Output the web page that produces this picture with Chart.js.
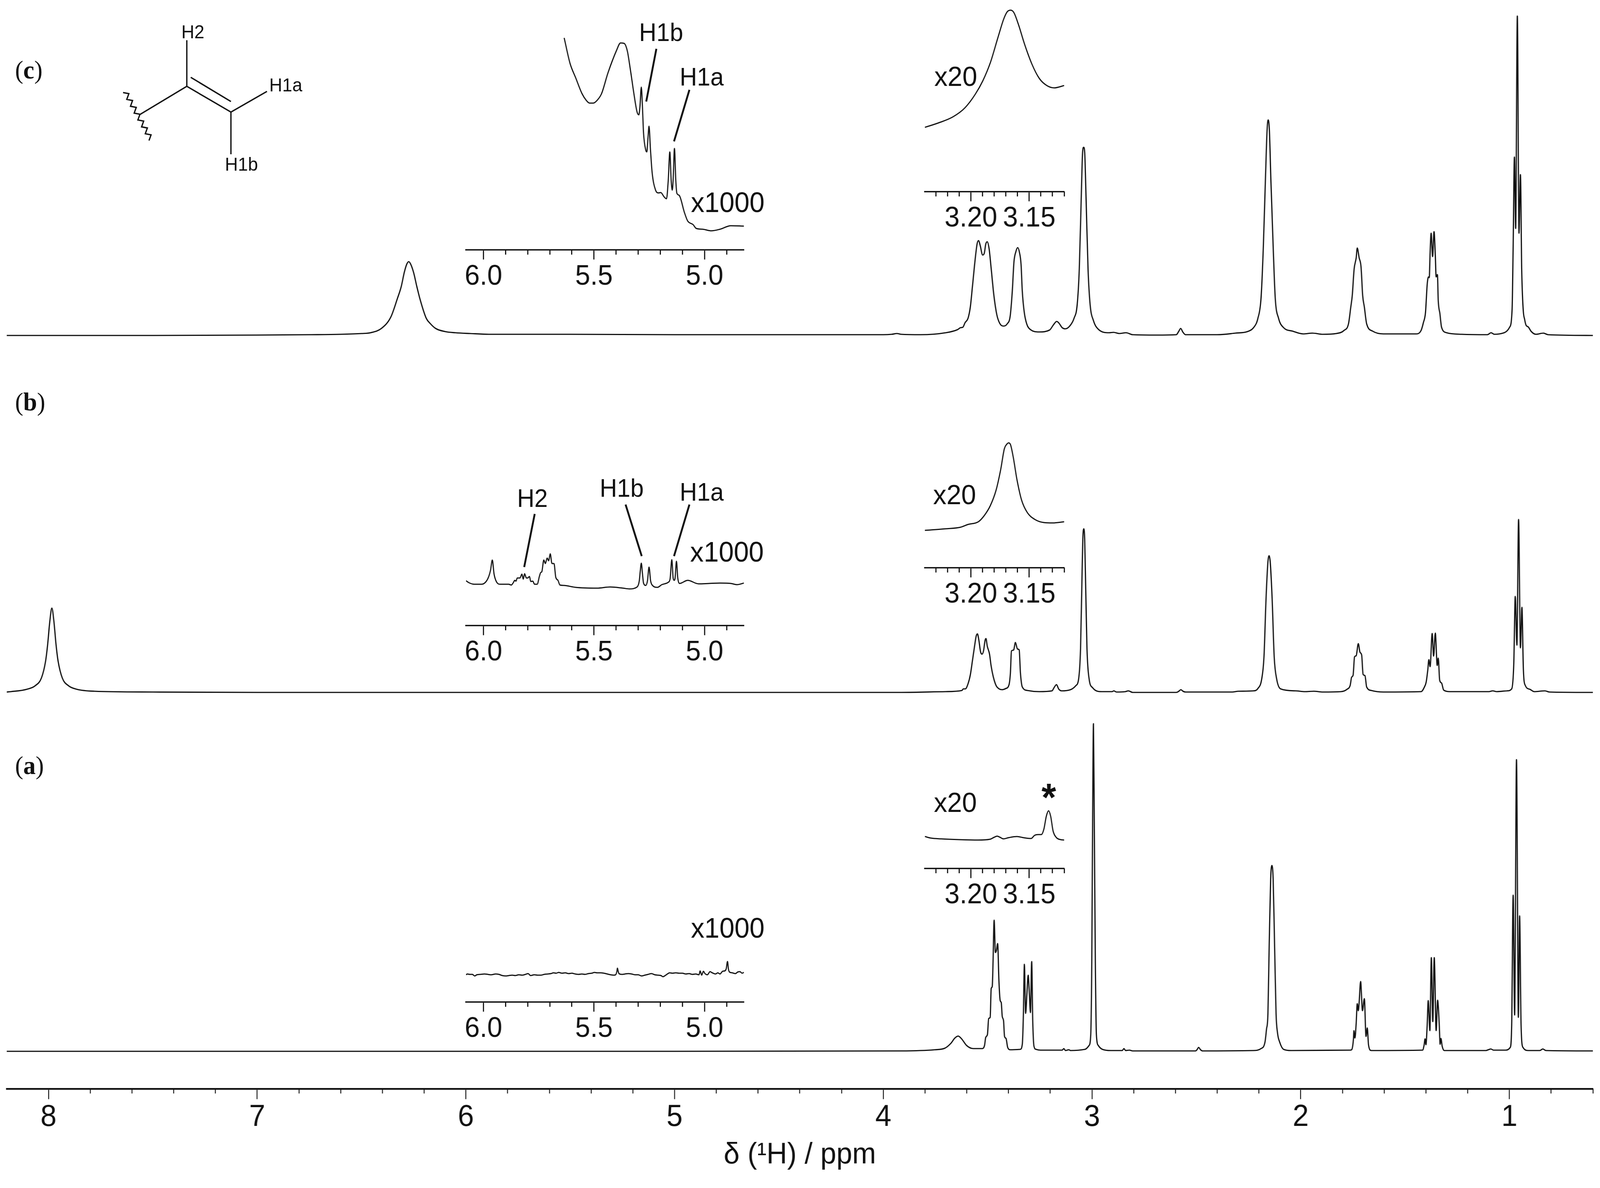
<!DOCTYPE html>
<html lang="en">
  <head>
    <meta charset="UTF-8" />
    <title>1H NMR spectra</title>
    <script src="https://cdn.jsdelivr.net/npm/chart.js"></script>
    <style>
      html, body { margin: 0; padding: 0; background: #fff; overflow: hidden; }
      #page { position: absolute; left: 0; top: 0; width: 4261px; height: 3042px; transform-origin: 0 0; }
      canvas, svg { position: absolute; }
    </style>
  </head>
  <body>
    <div id="page">
      <canvas id="main" width="4261" height="3042" style="left: 0; top: 0"></canvas>
      <svg id="notes" width="4261" height="3042" viewBox="0 0 4261 3042" style="left: 0; top: 0"></svg>
    </div>
    <script>
      // [ppm, height above that spectrum's own baseline]
      const specC = [[8.2,0],[7.5,0],[7.0,1],[6.75,2],[6.6,3],[6.5,5],[6.457,7],[6.405,18],[6.36,47],[6.328,95],[6.31,125],[6.295,162],[6.283,183],[6.274,189],[6.265,183],[6.25,160],[6.235,125],[6.221,95],[6.19,44],[6.17,30],[6.145,18],[6.1,10],[6.05,7],[5.98,5],[5.89,3],[5.5,3],[5,2],[4.5,2],[4.0,2],[3.96,3],[3.935,5],[3.914,3],[3.822,2],[3.701,7],[3.644,15],[3.63,20],[3.619,21],[3.608,33],[3.594,44],[3.583,73],[3.573,125],[3.559,199],[3.55,236],[3.543,243],[3.536,231],[3.524,206],[3.516,211],[3.509,234],[3.502,240],[3.493,222],[3.484,176],[3.47,102],[3.456,53],[3.441,30],[3.424,24],[3.406,30],[3.392,50],[3.382,113],[3.374,188],[3.365,214],[3.356,225],[3.347,211],[3.34,182],[3.334,113],[3.325,61],[3.313,30],[3.295,15],[3.253,9],[3.203,14],[3.185,27],[3.169,36],[3.159,32],[3.143,20],[3.128,17],[3.107,24],[3.086,44],[3.071,79],[3.061,170],[3.052,343],[3.045,469],[3.04,482],[3.035,469],[3.028,343],[3.019,170],[3.009,79],[2.993,38],[2.968,15],[2.918,7],[2.897,8],[2.869,5],[2.837,7],[2.805,2],[2.69,1],[2.596,2],[2.585,10],[2.575,18],[2.565,9],[2.552,2],[2.4,2],[2.313,6],[2.255,10],[2.226,20],[2.205,44],[2.19,96],[2.179,228],[2.169,400],[2.161,526],[2.156,552],[2.15,526],[2.143,400],[2.132,228],[2.122,96],[2.106,44],[2.082,20],[2.038,11],[1.988,4],[1.944,6],[1.894,3],[1.829,5],[1.792,13],[1.771,30],[1.76,73],[1.753,102],[1.744,170],[1.734,199],[1.729,224],[1.72,199],[1.711,176],[1.703,102],[1.695,73],[1.684,30],[1.655,11],[1.604,4],[1.56,4],[1.445,4],[1.423,13],[1.412,33],[1.402,59],[1.394,130],[1.388,150],[1.384,148],[1.38,211],[1.375,262],[1.368,202],[1.361,266],[1.355,205],[1.351,150],[1.345,156],[1.341,90],[1.333,56],[1.325,21],[1.301,7],[1.228,3],[1.105,2],[1.088,7],[1.072,3],[1.025,7],[0.999,21],[0.987,67],[0.982,228],[0.976,457],[0.97,274],[0.962,818],[0.954,262],[0.947,412],[0.941,170],[0.934,67],[0.927,41],[0.92,26],[0.91,22],[0.895,10],[0.873,3],[0.837,6],[0.815,2],[0.6,0]];
      const specB = [[8.2,1],[8.18,2],[8.104,8],[8.064,17],[8.034,37],[8.014,80],[8.004,123],[7.994,181],[7.984,216],[7.974,181],[7.964,123],[7.954,80],[7.934,37],[7.904,17],[7.864,8],[7.78,3],[7.5,1],[7,0],[5,0],[3.914,0],[3.701,2],[3.623,5],[3.617,9],[3.607,9],[3.594,22],[3.583,45],[3.573,81],[3.562,121],[3.555,144],[3.549,150],[3.543,137],[3.534,104],[3.527,98],[3.52,106],[3.512,134],[3.508,138],[3.502,119],[3.491,98],[3.484,70],[3.473,40],[3.459,17],[3.445,9],[3.431,7],[3.413,10],[3.398,19],[3.391,50],[3.386,106],[3.379,108],[3.375,109],[3.367,128],[3.357,111],[3.349,109],[3.343,50],[3.334,14],[3.31,5],[3.253,2],[3.192,4],[3.182,12],[3.17,20],[3.16,9],[3.146,4],[3.103,7],[3.078,17],[3.064,35],[3.055,111],[3.049,264],[3.044,392],[3.039,419],[3.035,392],[3.03,264],[3.024,111],[3.014,35],[2.997,12],[2.954,2],[2.904,2],[2.895,4],[2.883,1],[2.84,2],[2.826,4],[2.805,0],[2.596,0],[2.584,3],[2.574,7],[2.564,3],[2.552,1],[2.328,1],[2.299,3],[2.226,4],[2.205,10],[2.187,34],[2.176,91],[2.166,241],[2.157,334],[2.151,350],[2.146,334],[2.137,241],[2.127,91],[2.115,34],[2.096,9],[2.024,4],[1.98,2],[1.937,3],[1.894,1],[1.807,2],[1.778,8],[1.763,18],[1.756,39],[1.749,44],[1.742,91],[1.734,94],[1.724,125],[1.716,103],[1.708,96],[1.701,46],[1.692,43],[1.684,14],[1.662,5],[1.604,1],[1.423,2],[1.407,14],[1.399,26],[1.391,58],[1.386,84],[1.38,66],[1.37,151],[1.363,93],[1.355,152],[1.346,69],[1.341,88],[1.334,31],[1.325,24],[1.315,6],[1.286,2],[1.098,2],[1.08,4],[1.061,2],[1.011,4],[0.989,9],[0.979,74],[0.972,246],[0.964,121],[0.956,443],[0.947,114],[0.94,218],[0.933,58],[0.924,18],[0.902,8],[0.881,2],[0.83,4],[0.808,1],[0.6,0]];
      const specA = [[8.2,0],[5,0],[3.914,1],[3.754,4],[3.705,8],[3.677,20],[3.657,34],[3.641,39],[3.625,32],[3.601,15],[3.569,7],[3.525,7],[3.515,15],[3.509,36],[3.501,43],[3.495,84],[3.488,87],[3.483,161],[3.478,166],[3.474,232],[3.469,336],[3.463,253],[3.458,258],[3.452,276],[3.446,181],[3.44,130],[3.435,125],[3.43,89],[3.424,79],[3.419,38],[3.412,33],[3.404,10],[3.392,4],[3.344,5],[3.334,18],[3.329,89],[3.324,223],[3.318,97],[3.312,145],[3.306,195],[3.3,145],[3.295,99],[3.289,230],[3.284,79],[3.278,13],[3.268,5],[3.247,3],[3.143,3],[3.135,7],[3.127,2],[3.111,4],[3.103,2],[3.034,5],[3.014,15],[3.006,43],[3.001,232],[2.997,589],[2.993,839],[2.989,589],[2.984,232],[2.979,43],[2.97,15],[2.95,5],[2.91,2],[2.855,2],[2.847,7],[2.839,2],[2.821,3],[2.805,1],[2.504,1],[2.497,4],[2.489,10],[2.48,4],[2.47,1],[2.227,2],[2.19,7],[2.171,24],[2.164,56],[2.157,96],[2.151,268],[2.144,440],[2.138,476],[2.132,440],[2.125,268],[2.118,96],[2.111,47],[2.101,24],[2.082,5],[2.046,2],[1.763,3],[1.756,4],[1.747,33],[1.745,53],[1.74,34],[1.734,73],[1.729,122],[1.724,104],[1.72,125],[1.713,179],[1.704,104],[1.695,135],[1.687,38],[1.681,60],[1.675,16],[1.662,2],[1.416,3],[1.409,15],[1.404,32],[1.4,17],[1.394,67],[1.389,130],[1.381,53],[1.374,240],[1.367,76],[1.36,240],[1.351,53],[1.344,131],[1.336,67],[1.332,18],[1.328,33],[1.322,13],[1.312,2],[1.112,2],[1.101,4],[1.089,6],[1.076,3],[1.018,3],[0.996,10],[0.989,67],[0.982,400],[0.975,93],[0.966,747],[0.957,87],[0.951,347],[0.944,67],[0.935,10],[0.909,2],[0.854,2],[0.84,6],[0.825,2],[0.6,1]];

      // x1000 enlargements, height above the inset axis
      const zoomC1000 = [[5.635,543],[5.608,477],[5.583,441],[5.554,400],[5.535,383],[5.52,376],[5.503,376],[5.486,383],[5.466,400],[5.437,453],[5.398,511],[5.38,530],[5.364,529],[5.349,509],[5.335,460],[5.32,402],[5.305,353],[5.297,346],[5.292,368],[5.286,417],[5.281,368],[5.276,300],[5.266,256],[5.261,251],[5.256,285],[5.251,317],[5.245,261],[5.237,198],[5.222,154],[5.208,146],[5.198,147],[5.183,136],[5.172,131],[5.164,179],[5.157,251],[5.151,179],[5.146,153],[5.142,179],[5.136,260],[5.13,179],[5.125,145],[5.115,140],[5.091,96],[5.076,74],[5.052,65],[5.037,55],[5.008,53],[4.969,49],[4.93,53],[4.881,62],[4.822,61]];
      const zoomB1000 = [[6.079,115],[6.066,110],[6.042,106],[6.008,106],[5.988,113],[5.976,126],[5.968,142],[5.96,168],[5.952,132],[5.942,113],[5.925,106],[5.886,106],[5.874,104],[5.864,111],[5.859,116],[5.853,114],[5.847,122],[5.835,122],[5.826,132],[5.82,119],[5.814,133],[5.806,122],[5.8,122],[5.792,126],[5.786,113],[5.777,114],[5.769,106],[5.757,106],[5.747,126],[5.741,136],[5.736,138],[5.727,168],[5.72,159],[5.712,173],[5.705,166],[5.698,184],[5.69,159],[5.681,159],[5.673,124],[5.663,116],[5.654,104],[5.637,103],[5.583,98],[5.486,96],[5.427,99],[5.369,96],[5.34,94],[5.305,99],[5.295,115],[5.291,138],[5.286,160],[5.281,134],[5.276,109],[5.266,103],[5.258,115],[5.251,150],[5.244,115],[5.237,104],[5.213,98],[5.193,105],[5.164,111],[5.156,119],[5.148,169],[5.142,122],[5.137,116],[5.133,122],[5.127,165],[5.121,122],[5.113,108],[5.076,116],[5.027,107],[4.979,108],[4.93,109],[4.881,108],[4.852,105],[4.822,109]];
      const zoomA1000 = [[6.079,70],[6.073,72],[6.062,71],[6.05,71],[6.04,67],[6.03,70],[6.015,71],[5.995,72],[5.98,71],[5.965,70],[5.945,72],[5.93,71],[5.915,68],[5.9,67],[5.885,68],[5.87,69],[5.856,68],[5.84,70],[5.825,69],[5.81,71],[5.798,73],[5.787,68],[5.77,70],[5.755,69],[5.739,69],[5.725,71],[5.71,72],[5.695,73],[5.683,75],[5.671,74],[5.66,76],[5.645,74],[5.63,75],[5.615,73],[5.6,74],[5.585,72],[5.57,71],[5.555,72],[5.54,71],[5.525,73],[5.51,74],[5.498,76],[5.486,75],[5.47,75],[5.455,74],[5.44,72],[5.425,70],[5.41,69],[5.402,70],[5.396,80],[5.394,87],[5.391,80],[5.387,73],[5.375,71],[5.36,72],[5.345,73],[5.33,72],[5.315,70],[5.3,70],[5.285,67],[5.27,69],[5.255,71],[5.24,73],[5.225,70],[5.21,69],[5.197,68],[5.188,65],[5.178,68],[5.168,72],[5.158,75],[5.145,74],[5.13,75],[5.115,74],[5.1,74],[5.085,72],[5.07,73],[5.055,71],[5.04,72],[5.025,70],[5.02,80],[5.013,69],[5.005,79],[4.998,73],[4.987,70],[4.975,78],[4.965,75],[4.95,72],[4.94,75],[4.93,72],[4.918,79],[4.908,80],[4.902,85],[4.896,104],[4.892,85],[4.887,77],[4.875,75],[4.86,73],[4.85,77],[4.84,78],[4.83,74],[4.822,76]];

      // x20 enlargements
      const zoomC20 = [[3.2395,165],[3.2281,176],[3.2153,192],[3.2051,215],[3.1962,250],[3.1898,284],[3.1834,330],[3.177,393],[3.1719,442],[3.1688,461],[3.1658,465],[3.163,458],[3.1592,428],[3.1541,379],[3.1477,327],[3.1413,290],[3.1349,272],[3.1286,266],[3.12,272]];
      const zoomB20 = [[3.2395,96],[3.2217,100],[3.2089,104],[3.2026,111],[3.1936,118],[3.1885,134],[3.1834,159],[3.1783,200],[3.1745,251],[3.1713,305],[3.1691,317],[3.1677,320],[3.166,315],[3.1636,282],[3.1605,226],[3.1566,174],[3.1515,141],[3.1452,124],[3.1375,116],[3.1298,115],[3.12,118]];
      const zoomA20 = [[3.2395,82],[3.2342,78],[3.2256,76],[3.2097,74],[3.1938,73],[3.1837,75],[3.1801,80],[3.1775,83],[3.175,80],[3.1721,76],[3.1678,79],[3.1605,82],[3.1548,79],[3.1483,77],[3.1454,85],[3.1425,87],[3.1396,87],[3.1374,101],[3.1353,134],[3.1334,148],[3.1316,134],[3.1295,96],[3.1266,79],[3.123,74],[3.12,73]];

      // ticks
      const mainMajor = [8, 7, 6, 5, 4, 3, 2, 1];
      const mainMinor = [7.8, 7.6, 7.4, 7.2, 6.8, 6.6, 6.4, 6.2, 5.8, 5.6, 5.4, 5.2, 4.8, 4.6, 4.4, 4.2, 3.8, 3.6, 3.4, 3.2, 2.8, 2.6, 2.4, 2.2, 1.8, 1.6, 1.4, 1.2, 0.8, 0.6];
      const wideMajor = [6.0, 5.5, 5.0];
      const wideMinor = [5.9, 5.8, 5.7, 5.6, 5.4, 5.3, 5.2, 5.1, 4.9];
      const narrowMajor = [3.2, 3.15];
      const narrowMinor = [3.23, 3.22, 3.21, 3.19, 3.18, 3.17, 3.16, 3.14, 3.13, 3.12];

      // how far each spectrum sits above the main axis
      const baseC = 1929;
      const baseB = 1015;
      const baseA = 96;

      const INK = "#111";
      Chart.defaults.font.family = "'Liberation Sans', Arial, sans-serif";
      Chart.defaults.color = INK;

      // the browser may give less than the 4261 wide window, keep the picture filling it
      const page = document.getElementById("page");
      page.style.transform = "scale(" + Math.min(1, window.innerWidth / 4261) + ", 1)";

      function lineSet(points, offset, width) {
        return {
          data: points.map((p) => ({ x: p[0], y: p[1] + offset })),
          borderColor: INK,
          borderWidth: width,
          pointRadius: 0,
          cubicInterpolationMode: "monotone",
          borderJoinStyle: "round",
        };
      }

      function axisPair(o) {
        const setTicks = (list) => (axis) => {
          axis.ticks = list.map((v) => ({ value: v }));
        };
        const common = {
          type: "linear",
          reverse: true,
          min: o.min,
          max: o.max,
          position: { y: 0 },
        };
        return {
          x: {
            ...common,
            afterBuildTicks: setTicks(o.major),
            border: { display: true, width: o.borderWidth, color: INK },
            grid: { drawOnChartArea: false, tickLength: o.majorLen, tickWidth: o.tickWidth, tickColor: INK },
            ticks: {
              autoSkip: false,
              maxRotation: 0,
              minRotation: 0,
              padding: o.labelPad,
              color: INK,
              font: { size: o.fontSize },
              callback: (v) => v.toFixed(o.digits),
            },
            title: o.title || { display: false },
          },
          xMinor: {
            ...common,
            axis: "x",
            afterBuildTicks: setTicks(o.minor),
            border: { display: false },
            grid: { drawOnChartArea: false, tickLength: o.minorLen, tickWidth: o.tickWidth, tickColor: INK },
            ticks: { display: false, autoSkip: false, maxRotation: 0 },
          },
          y: { display: false, min: 0, max: o.yMax },
        };
      }

      function draw(canvas, datasets, padding, scales) {
        new Chart(canvas, {
          type: "line",
          data: { datasets: datasets },
          options: {
            responsive: false,
            devicePixelRatio: 1,
            animation: false,
            events: [],
            layout: { padding: padding },
            scales: scales,
            plugins: { legend: { display: false }, tooltip: { enabled: false } },
          },
        });
      }

      // the stacked full spectra and the shared ppm axis
      draw(
        document.getElementById("main"),
        [lineSet(specC, baseC, 3.2), lineSet(specB, baseB, 3.2), lineSet(specA, baseA, 3.2)],
        { left: 18, right: 19, top: 0, bottom: 254 },
        axisPair({
          min: 0.6, max: 8.2, major: mainMajor, minor: mainMinor, digits: 0,
          majorLen: 24, minorLen: 12, tickWidth: 2.4, borderWidth: 4.5,
          fontSize: 77, labelPad: 4, yMax: 2788,
          title: {
            display: true,
            text: "δ (¹H) / ppm",
            color: INK,
            font: { size: 76 },
            padding: { top: 0, bottom: 170 },
          },
        })
      );

      function inset(points, left, right, axisY, height, ppmRange, major, minor, digits) {
        const margin = 90;
        const below = 130;
        const canvas = document.createElement("canvas");
        canvas.width = right - left + margin * 2;
        canvas.height = height + below;
        canvas.style.left = left - margin + "px";
        canvas.style.top = axisY - height + "px";
        page.insertBefore(canvas, document.getElementById("notes"));
        draw(
          canvas,
          [lineSet(points, 0, 3)],
          { left: margin, right: margin, top: 0, bottom: below },
          axisPair({
            min: ppmRange[0], max: ppmRange[1], major: major, minor: minor, digits: digits,
            majorLen: 23, minorLen: 12, tickWidth: 3, borderWidth: 3.5,
            fontSize: 72, labelPad: 3, yMax: height,
          })
        );
      }

      inset(zoomC1000, 1241, 1981, 640, 620, [4.822, 6.079], wideMajor, wideMinor, 1);
      inset(zoomB1000, 1241, 1981, 1602, 620, [4.822, 6.079], wideMajor, wideMinor, 1);
      inset(zoomA1000, 1241, 1981, 2566, 620, [4.822, 6.079], wideMajor, wideMinor, 1);
      inset(zoomC20, 2463, 2834, 491, 480, [3.12, 3.2395], narrowMajor, narrowMinor, 2);
      inset(zoomB20, 2463, 2834, 1454, 480, [3.12, 3.2395], narrowMajor, narrowMinor, 2);
      inset(zoomA20, 2463, 2834, 2224, 480, [3.12, 3.2395], narrowMajor, narrowMinor, 2);

      // text and drawn structure on top of the charts
      const svg = document.getElementById("notes");
      const NS = "http://www.w3.org/2000/svg";

      function text(str, x, y, size, extra) {
        const t = document.createElementNS(NS, "text");
        t.setAttribute("x", x);
        t.setAttribute("y", y);
        t.setAttribute("font-size", size);
        t.setAttribute("font-family", "'Liberation Sans', Arial, sans-serif");
        t.setAttribute("fill", INK);
        Object.entries(extra || {}).forEach(([k, v]) => t.setAttribute(k, v));
        t.textContent = str;
        svg.appendChild(t);
        return t;
      }

      function stroke(x1, y1, x2, y2, w) {
        const l = document.createElementNS(NS, "line");
        l.setAttribute("x1", x1);
        l.setAttribute("y1", y1);
        l.setAttribute("x2", x2);
        l.setAttribute("y2", y2);
        l.setAttribute("stroke", INK);
        l.setAttribute("stroke-width", w);
        svg.appendChild(l);
      }

      function panelLabel(letter, y) {
        const t = text("(", 40, y, 66, { "font-family": "'Liberation Serif', serif" });
        const b = document.createElementNS(NS, "tspan");
        b.setAttribute("font-weight", "bold");
        b.textContent = letter;
        t.appendChild(b);
        const c = document.createElementNS(NS, "tspan");
        c.textContent = ")";
        t.appendChild(c);
      }
      panelLabel("c", 201);
      panelLabel("b", 1051);
      panelLabel("a", 1982);

      text("x1000", 1840, 543, 72);
      text("x1000", 1838, 1438, 72);
      text("x1000", 1840, 2401, 72);
      text("x20", 2488, 220, 71);
      text("x20", 2485, 1291, 71);
      text("x20", 2487, 2079, 71);
      text("*", 2793, 2076, 100, { "text-anchor": "middle", "font-weight": "bold" });

      text("H1b", 1702, 105, 64);
      text("H1a", 1810, 219, 64);
      stroke(1748, 125, 1721, 260, 5);
      stroke(1836, 230, 1795, 362, 5);

      text("H2", 1377, 1298, 64);
      text("H1b", 1597, 1272, 64);
      text("H1a", 1810, 1282, 64);
      stroke(1424, 1316, 1396, 1452, 5);
      stroke(1666, 1292, 1709, 1424, 5);
      stroke(1836, 1292, 1795, 1424, 5);

      // vinyl group sketch
      text("H2", 483, 98, 48);
      text("H1a", 717, 234, 48);
      text("H1b", 599, 437, 48);
      stroke(497.5, 103, 497.5, 221, 3.5);
      stroke(497.5, 221, 615, 287, 3.5);
      stroke(508, 198, 615, 260, 3.5);
      stroke(615, 287, 711, 234, 3.5);
      stroke(615, 287, 615, 395, 3.5);
      stroke(497.5, 221, 373, 293, 3.5);
      const wave = document.createElementNS(NS, "polyline");
      let wavePts = "";
      for (let i = 0; i <= 14; i++) {
        const f = i / 14;
        const side = i % 2 === 0 ? -6 : 6;
        wavePts += 333 + 69 * f + side * 0.87 + "," + (234 + 123 * f + side * -0.49) + " ";
      }
      wave.setAttribute("points", wavePts);
      wave.setAttribute("fill", "none");
      wave.setAttribute("stroke", INK);
      wave.setAttribute("stroke-width", 3.5);
      svg.appendChild(wave);
    </script>
  </body>
</html>
